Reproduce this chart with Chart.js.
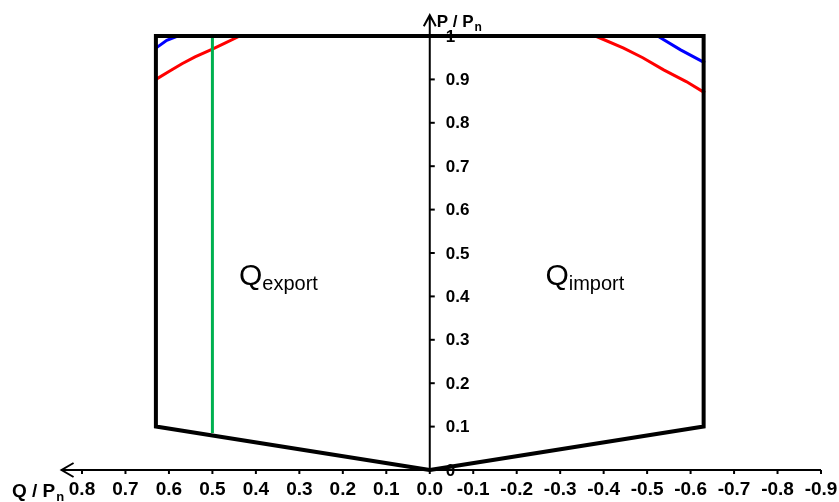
<!DOCTYPE html>
<html>
<head>
<meta charset="utf-8">
<script src="https://cdn.jsdelivr.net/npm/chart.js@4"></script>
<style>
  body { margin: 0; background: #fff; }
  #wrap { width: 839px; height: 502px; }
</style>
</head>
<body>
<div id="wrap"><canvas id="myChart" width="839" height="502"></canvas></div>
<script>
// axis ticks
const xTicks = [0.8, 0.7, 0.6, 0.5, 0.4, 0.3, 0.2, 0.1, 0, -0.1, -0.2, -0.3, -0.4, -0.5, -0.6, -0.7, -0.8, -0.9];
const xTickLabels = ['0.8', '0.7', '0.6', '0.5', '0.4', '0.3', '0.2', '0.1', '0.0', '-0.1', '-0.2', '-0.3', '-0.4', '-0.5', '-0.6', '-0.7', '-0.8', '-0.9'];
const yTicks = [0, 0.1, 0.2, 0.3, 0.4, 0.5, 0.6, 0.7, 0.8, 0.9, 1];
const yTickLabels = ['0', '0.1', '0.2', '0.3', '0.4', '0.5', '0.6', '0.7', '0.8', '0.9', '1'];

// black operating area
const boundaryQ = [0, 0.63, 0.63, -0.63, -0.63, 0];
const boundaryP = [0, 0.1, 1, 1, 0.1, 0];
// red limit
const redLeftQ = [0.63, 0.6, 0.57, 0.54, 0.5, 0.47, 0.437];
const redLeftP = [0.9, 0.918, 0.936, 0.952, 0.97, 0.984, 1];
const redRightQ = [-0.381, -0.446, -0.49, -0.538, -0.59, -0.633];
const redRightP = [1, 0.972, 0.95, 0.922, 0.895, 0.869];
// blue limit
const blueLeftQ = [0.63, 0.605, 0.58];
const blueLeftP = [0.972, 0.99, 1];
const blueRightQ = [-0.524, -0.577, -0.633];
const blueRightP = [1, 0.968, 0.938];
// green line Q = 0.5
const greenQ = [0.5, 0.5];
const greenP = [0.085, 1];

const pts = (q, p) => q.map((v, i) => ({x: v, y: p[i]}));

function line(q, p, color, w, order) {
  return {
    data: pts(q, p),
    showLine: true,
    borderColor: color,
    borderWidth: w,
    pointRadius: 0,
    fill: false,
    clip: false,
    order: order
  };
}

const axesPlugin = {
  id: 'axesPlugin',
  afterDatasetsDraw(chart) {
    const ctx = chart.ctx;
    const xs = chart.scales.x, ys = chart.scales.y;
    const x0 = xs.getPixelForValue(0), y0 = ys.getPixelForValue(0);
    ctx.save();
    ctx.strokeStyle = '#000';
    ctx.fillStyle = '#000';
    ctx.lineWidth = 2;
    // x axis with arrow on the left
    const xl = xs.getPixelForValue(0.847), xr = xs.getPixelForValue(-0.9);
    ctx.beginPath();
    ctx.moveTo(xr, y0); ctx.lineTo(xl, y0);
    ctx.moveTo(xl + 12, y0 - 7); ctx.lineTo(xl, y0); ctx.lineTo(xl + 12, y0 + 7);
    ctx.stroke();
    // y axis with arrow on top
    const yt = ys.getPixelForValue(1.048);
    ctx.beginPath();
    ctx.moveTo(x0, y0); ctx.lineTo(x0, yt);
    ctx.moveTo(x0 - 6, yt + 11); ctx.lineTo(x0, yt); ctx.lineTo(x0 + 6, yt + 11);
    ctx.stroke();
    // x ticks + labels
    ctx.font = 'bold 19px "Liberation Sans", Arial, sans-serif';
    ctx.textAlign = 'center';
    ctx.textBaseline = 'middle';
    xTicks.forEach((v, i) => {
      const px = xs.getPixelForValue(v);
      ctx.beginPath(); ctx.moveTo(px, y0); ctx.lineTo(px, y0 + 4); ctx.stroke();
      ctx.fillText(xTickLabels[i], px, y0 + 20);
    });
    // y ticks + labels
    ctx.font = 'bold 17px "Liberation Sans", Arial, sans-serif';
    ctx.textAlign = 'left';
    yTicks.forEach((v, i) => {
      const py = ys.getPixelForValue(v);
      ctx.beginPath(); ctx.moveTo(x0, py); ctx.lineTo(x0 + 5, py); ctx.stroke();
      ctx.fillText(yTickLabels[i], x0 + 16, py + 1);
    });
    // axis titles
    ctx.textBaseline = 'alphabetic';
    ctx.font = 'bold 17px "Liberation Sans", Arial, sans-serif';
    ctx.fillText('P / P', x0 + 7, 27);
    let w = ctx.measureText('P / P').width;
    ctx.font = 'bold 12px "Liberation Sans", Arial, sans-serif';
    ctx.fillText('n', x0 + 7 + w + 1, 31);
    ctx.font = 'bold 19px "Liberation Sans", Arial, sans-serif';
    ctx.fillText('Q / P', 12, y0 + 27);
    w = ctx.measureText('Q / P').width;
    ctx.font = 'bold 13px "Liberation Sans", Arial, sans-serif';
    ctx.fillText('n', 12 + w + 1, y0 + 31);
    // area labels
    const sub = (big, small, q, p) => {
      const px = xs.getPixelForValue(q), py = ys.getPixelForValue(p);
      ctx.font = '30px "Liberation Sans", Arial, sans-serif';
      ctx.fillText(big, px, py);
      const bw = ctx.measureText(big).width;
      ctx.font = '20px "Liberation Sans", Arial, sans-serif';
      ctx.fillText(small, px + bw, py + 5);
    };
    sub('Q', 'export', 0.439, 0.427);
    sub('Q', 'import', -0.266, 0.427);
    ctx.restore();
  }
};

const ctx = document.getElementById('myChart');
new Chart(ctx, {
  type: 'scatter',
  data: {
    datasets: [
      line(boundaryQ, boundaryP, '#000000', 4, 0),
      line(greenQ, greenP, '#00b050', 3, 1),
      line(redLeftQ, redLeftP, '#ff0000', 3, 2),
      line(redRightQ, redRightP, '#ff0000', 3, 2),
      line(blueLeftQ, blueLeftP, '#0000ff', 3, 3),
      line(blueRightQ, blueRightP, '#0000ff', 3, 3)
    ]
  },
  options: {
    responsive: false,
    animation: false,
    layout: { padding: { left: 82, right: 18, top: 36, bottom: 32 } },
    plugins: { legend: { display: false }, tooltip: { enabled: false } },
    scales: {
      x: { type: 'linear', reverse: true, min: -0.9, max: 0.8, display: false },
      y: { type: 'linear', min: 0, max: 1, display: false }
    }
  },
  plugins: [axesPlugin]
});
</script>
</body>
</html>
